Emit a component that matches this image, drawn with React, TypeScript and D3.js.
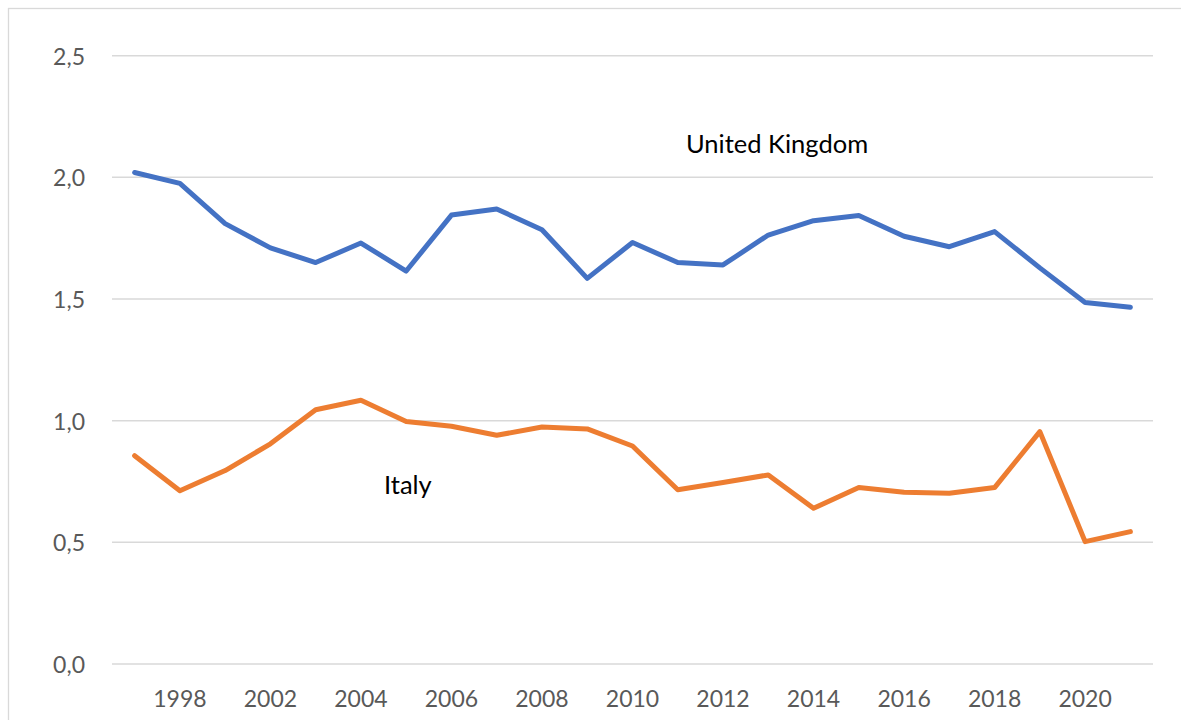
import React, { useEffect, useRef } from "react";
import * as d3 from "d3";

const W = 1181;
const H = 720;
const plot = { left: 112, right: 1153, top: 55.7, bottom: 664 };

// categories (only every other one is labelled on the axis)
const years = [
  "1997", "1998", "2000", "2002", "2003", "2004", "2005", "2006", "2007", "2008", "2009", "2010",
  "2011", "2012", "2013", "2014", "2015", "2016", "2017", "2018", "2019", "2020", "2021",
];
const xTickLabels = ["1998", "2002", "2004", "2006", "2008", "2010", "2012", "2014", "2016", "2018", "2020"];
const yTicks = [0, 0.5, 1, 1.5, 2, 2.5];

const ukValues = [
  2.02, 1.975, 1.81, 1.71, 1.65, 1.73, 1.615, 1.845, 1.87, 1.785, 1.585, 1.732,
  1.65, 1.64, 1.763, 1.822, 1.843, 1.758, 1.715, 1.777, 1.628, 1.486, 1.466,
];
const italyValues = [
  0.856, 0.712, 0.795, 0.905, 1.045, 1.084, 0.997, 0.977, 0.94, 0.974, 0.966, 0.896,
  0.716, 0.746, 0.777, 0.64, 0.725, 0.706, 0.702, 0.725, 0.955, 0.503, 0.544,
];

const series = [
  { name: "United Kingdom", values: ukValues, color: "#4472C4" },
  { name: "Italy", values: italyValues, color: "#ED7D31" },
];

const FONT = "Lato, 'Open Sans', sans-serif";

function renderChart(svgEl: SVGSVGElement) {
  const svg = d3.select(svgEl);
  svg.selectAll("*").remove();

  const x = d3.scaleBand().domain(years).range([plot.left, plot.right]).padding(0);
  const cx = (d: string) => (x(d) as number) + x.bandwidth() / 2;
  const y = d3.scaleLinear().domain([0, 2.5]).range([plot.bottom, plot.top]);

  // outer chart border
  svg.append("rect")
    .attr("x", 8.5)
    .attr("y", 8.5)
    .attr("width", W + 20)
    .attr("height", H + 20)
    .attr("fill", "#fff")
    .attr("stroke", "#D9D9D9")
    .attr("stroke-width", 1.3);

  // gridlines
  svg.append("g")
    .selectAll("line")
    .data(yTicks)
    .join("line")
    .attr("x1", plot.left)
    .attr("x2", plot.right)
    .attr("y1", d => y(d))
    .attr("y2", d => y(d))
    .attr("stroke", "#D9D9D9")
    .attr("stroke-width", 1.5);

  // y labels
  const fmt = d3.format(".1f");
  svg.append("g")
    .selectAll("text")
    .data(yTicks)
    .join("text")
    .attr("x", 85)
    .attr("y", d => y(d) + 9)
    .attr("text-anchor", "end")
    .attr("fill", "#595959")
    .style("font-family", FONT)
    .style("font-size", "23px")
    .text(d => fmt(d).replace(".", ","));

  // x labels
  svg.append("g")
    .selectAll("text")
    .data(xTickLabels)
    .join("text")
    .attr("x", (d, i) => cx(years[i * 2 + 1]))
    .attr("y", 707)
    .attr("text-anchor", "middle")
    .attr("fill", "#595959")
    .style("font-family", FONT)
    .style("font-size", "23px")
    .text(d => d);

  // lines
  const line = d3.line<number>()
    .x((d, i) => cx(years[i]))
    .y(d => y(d));

  svg.append("g")
    .selectAll("path")
    .data(series)
    .join("path")
    .attr("d", d => line(d.values))
    .attr("fill", "none")
    .attr("stroke", d => d.color)
    .attr("stroke-width", 5)
    .attr("stroke-linejoin", "round")
    .attr("stroke-linecap", "round");

  // series labels
  svg.append("text")
    .attr("x", 686)
    .attr("y", 153)
    .attr("fill", "#000")
    .style("font-family", FONT)
    .style("font-size", "25.5px")
    .text(series[0].name);

  svg.append("text")
    .attr("x", 384)
    .attr("y", 494)
    .attr("fill", "#000")
    .style("font-family", FONT)
    .style("font-size", "25.5px")
    .text(series[1].name);
}

export default function App() {
  const svgRef = useRef<SVGSVGElement>(null);

  useEffect(() => {
    if (svgRef.current) renderChart(svgRef.current);
  }, []);

  return (
    <svg
      ref={svgRef}
      width={W}
      height={H}
      style={{ position: "absolute", left: 0, top: 0, display: "block" }}
    />
  );
}
